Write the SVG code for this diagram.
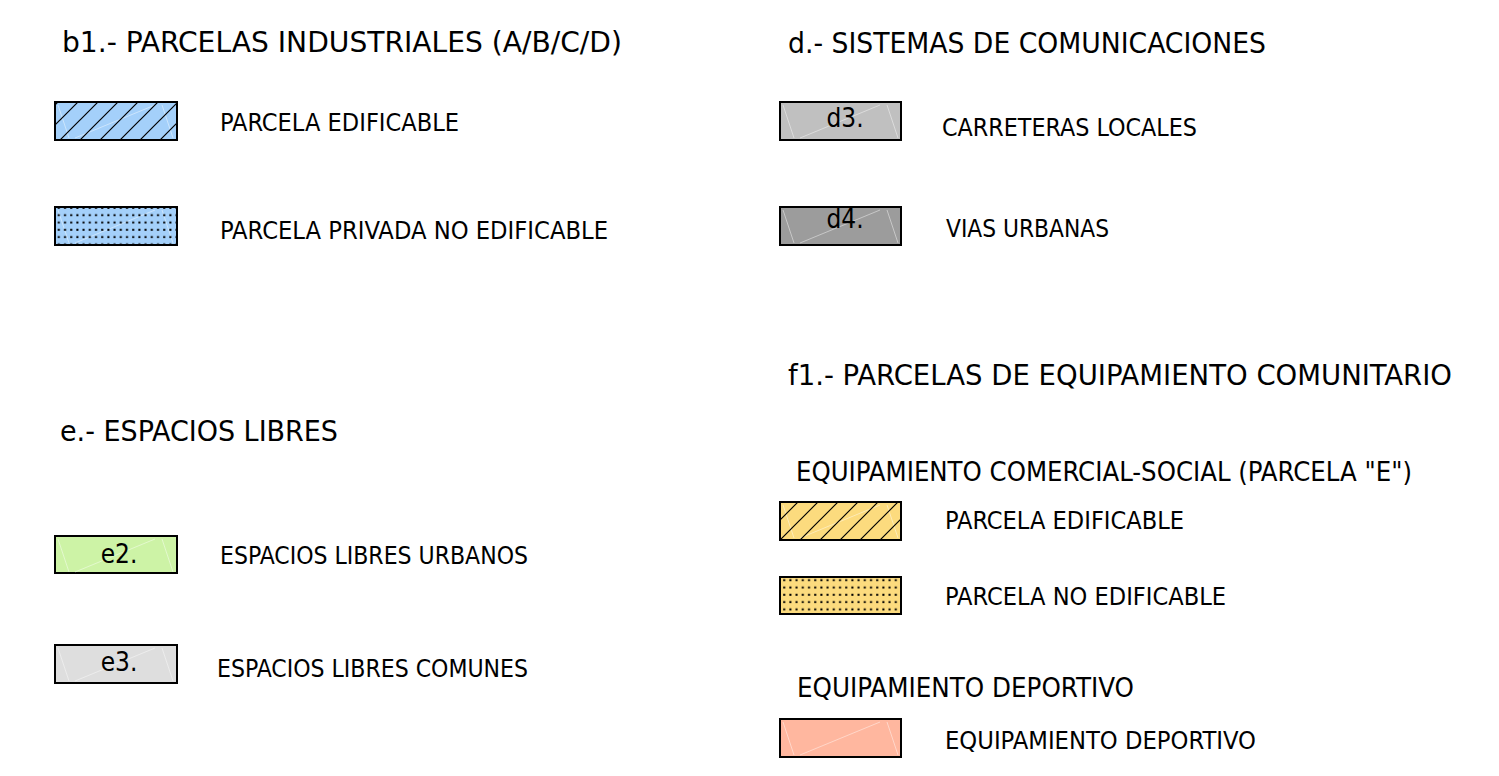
<svg xmlns="http://www.w3.org/2000/svg" width="1499" height="776" viewBox="0 0 1499 776">
<style>
.h{font-family:"DejaVu Sans Condensed","DejaVu Sans",sans-serif;font-size:29px;fill:#000}
.l{font-family:"DejaVu Sans Condensed","DejaVu Sans",sans-serif;font-size:25px;fill:#000}
.b{font-family:"DejaVu Sans Condensed","DejaVu Sans",sans-serif;font-size:26px;fill:#000}
.s{font-family:"DejaVu Sans Condensed","DejaVu Sans",sans-serif;font-size:27px;fill:#000}
.bx{stroke:#000;stroke-width:2}
.ft{fill:none;stroke:#fff;stroke-opacity:0.55;stroke-width:0.8}
</style>
<defs>
<pattern id="hatch" patternUnits="userSpaceOnUse" width="20" height="20">
<path d="M-5,5 L5,-5 M0,20 L20,0 M15,25 L25,15" stroke="#000" stroke-width="1.2"/>
</pattern>
<pattern id="dots" patternUnits="userSpaceOnUse" width="6.2" height="7.3">
<rect x="2" y="2.5" width="2" height="2" fill="#000"/>
</pattern>
<g id="faint">
<path class="ft" d="M3,3 L14,36 M20,36 L100,3 M107,3 L118,36"/>
</g>
</defs>

<g id="titles">
<text class="h" x="62" y="52" textLength="560" lengthAdjust="spacingAndGlyphs">b1.- PARCELAS INDUSTRIALES (A/B/C/D)</text>
<text class="h" x="788" y="53" textLength="478" lengthAdjust="spacingAndGlyphs">d.- SISTEMAS DE COMUNICACIONES</text>
<text class="h" x="60" y="441" textLength="278" lengthAdjust="spacingAndGlyphs">e.- ESPACIOS LIBRES</text>
<text class="h" x="788" y="385" textLength="664" lengthAdjust="spacingAndGlyphs">f1.- PARCELAS DE EQUIPAMIENTO COMUNITARIO</text>
<text class="s" x="796" y="481" textLength="616" lengthAdjust="spacingAndGlyphs">EQUIPAMIENTO COMERCIAL-SOCIAL (PARCELA "E")</text>
<text class="s" x="797" y="697" textLength="337" lengthAdjust="spacingAndGlyphs">EQUIPAMIENTO DEPORTIVO</text>
</g>

<g id="b1-edificable">
<rect class="bx" x="55" y="102" width="122" height="38" fill="#a4d0fa"/>
<use href="#faint" x="55" y="102"/>
<rect x="56" y="103" width="120" height="36" fill="url(#hatch)"/>
<rect x="55" y="102" width="122" height="38" fill="none" stroke="#000" stroke-width="2"/>
<text class="l" x="220" y="131" textLength="239" lengthAdjust="spacingAndGlyphs">PARCELA EDIFICABLE</text>
</g>

<g id="b1-no-edificable">
<rect class="bx" x="55" y="207" width="122" height="38" fill="#a4d0fa"/>
<use href="#faint" x="55" y="207"/>
<rect x="56" y="208" width="120" height="36" fill="url(#dots)"/>
<rect x="55" y="207" width="122" height="38" fill="none" stroke="#000" stroke-width="2"/>
<text class="l" x="220" y="239" textLength="388" lengthAdjust="spacingAndGlyphs">PARCELA PRIVADA NO EDIFICABLE</text>
</g>

<g id="d3">
<rect class="bx" x="780" y="102" width="121" height="38" fill="#c0c0c0"/>
<use href="#faint" x="780" y="102"/>
<text class="b" x="845" y="127" text-anchor="middle">d3.</text>
<text class="l" x="942" y="136" textLength="255" lengthAdjust="spacingAndGlyphs">CARRETERAS LOCALES</text>
</g>

<g id="d4">
<rect class="bx" x="780" y="207" width="121" height="38" fill="#9c9c9c"/>
<use href="#faint" x="780" y="207"/>
<text class="b" x="845" y="228" text-anchor="middle">d4.</text>
<text class="l" x="946" y="237" textLength="163" lengthAdjust="spacingAndGlyphs">VIAS URBANAS</text>
</g>

<g id="e2">
<rect class="bx" x="55" y="536" width="122" height="37" fill="#cdf3a6"/>
<use href="#faint" x="55" y="536"/>
<text class="b" x="119" y="563" text-anchor="middle">e2.</text>
<text class="l" x="220" y="564" textLength="308" lengthAdjust="spacingAndGlyphs">ESPACIOS LIBRES URBANOS</text>
</g>

<g id="e3">
<rect class="bx" x="55" y="645" width="122" height="38" fill="#dedede"/>
<use href="#faint" x="55" y="645"/>
<text class="b" x="119" y="671" text-anchor="middle">e3.</text>
<text class="l" x="217" y="677" textLength="311" lengthAdjust="spacingAndGlyphs">ESPACIOS LIBRES COMUNES</text>
</g>

<g id="f1-edificable">
<rect class="bx" x="780" y="502" width="121" height="38" fill="#fcdb7e"/>
<use href="#faint" x="780" y="502"/>
<rect x="781" y="503" width="119" height="36" fill="url(#hatch)"/>
<rect x="780" y="502" width="121" height="38" fill="none" stroke="#000" stroke-width="2"/>
<text class="l" x="945" y="529" textLength="239" lengthAdjust="spacingAndGlyphs">PARCELA EDIFICABLE</text>
</g>

<g id="f1-no-edificable">
<rect class="bx" x="780" y="577" width="121" height="37" fill="#fcdb7e"/>
<rect x="781" y="578" width="119" height="35" fill="url(#dots)"/>
<rect x="780" y="577" width="121" height="37" fill="none" stroke="#000" stroke-width="2"/>
<text class="l" x="945" y="605" textLength="281" lengthAdjust="spacingAndGlyphs">PARCELA NO EDIFICABLE</text>
</g>

<g id="f1-deportivo">
<rect class="bx" x="780" y="719" width="121" height="38" fill="#ffb79f"/>
<use href="#faint" x="780" y="719"/>
<text class="l" x="945" y="749" textLength="311" lengthAdjust="spacingAndGlyphs">EQUIPAMIENTO DEPORTIVO</text>
</g>
</svg>
